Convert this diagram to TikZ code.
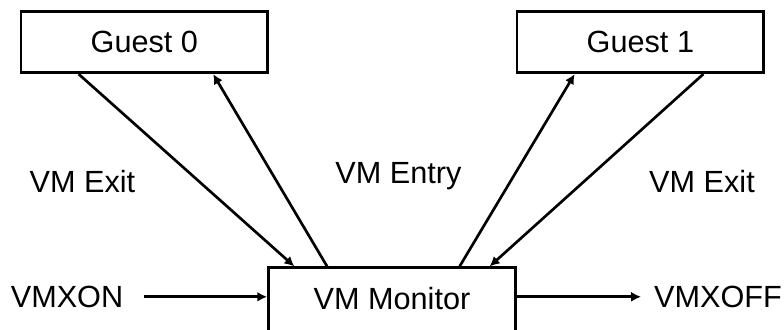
\documentclass[tikz,border=0pt]{standalone}
\usepackage{fontspec}
\setmainfont{Liberation Sans}
\usetikzlibrary{arrows.meta}
\tikzset{every node/.style={font=\fontsize{21.8}{26}\selectfont},
         box/.style={draw,line width=2.1pt,minimum width=6.17cm,minimum height=1.53cm,inner sep=0pt},
         flow/.style={line width=1.9pt,-{Latex[length=7pt,width=7pt]}},
         io/.style={inner xsep=0.3cm},
        }
\begin{document}
\begin{tikzpicture}
        \clip (0,0) rectangle (19.6,-8.225);
        \useasboundingbox (0,0) rectangle (19.6,-8.225);

        \node[box](g0)at(3.61,-1.05){Guest 0};
        \node[box](g1)at(16.01,-1.05){Guest 1};
        % monitor runs off the bottom edge
        \node[box,minimum height=1.8cm,text depth=0.275cm,anchor=north](mon)at(9.8,-6.66){VM Monitor};

        \node(exl)at(2.06,-4.55){VM Exit};
        \node(ent)at(9.96,-4.4){VM Entry};
        \node(exr)at(17.55,-4.55){VM Exit};

        \node[io](on)at(1.675,-7.42){VMXON};
        \node[io](off)at(17.95,-7.42){VMXOFF};

        % exits go down to the monitor, entries go up to the guests
        \draw[flow](g0.206)--(mon.159);
        \draw[flow](mon.150)--(g0.335);
        \draw[flow](mon.29)--(g1.206);
        \draw[flow](g1.333)--(mon.21);

        \draw[flow,shorten <=0.22cm](on.east)--(on.east-|mon.west);
        \draw[flow,shorten >=0.02cm](off.west-|mon.east)--(off.west);
    \end{tikzpicture}
\end{document}
